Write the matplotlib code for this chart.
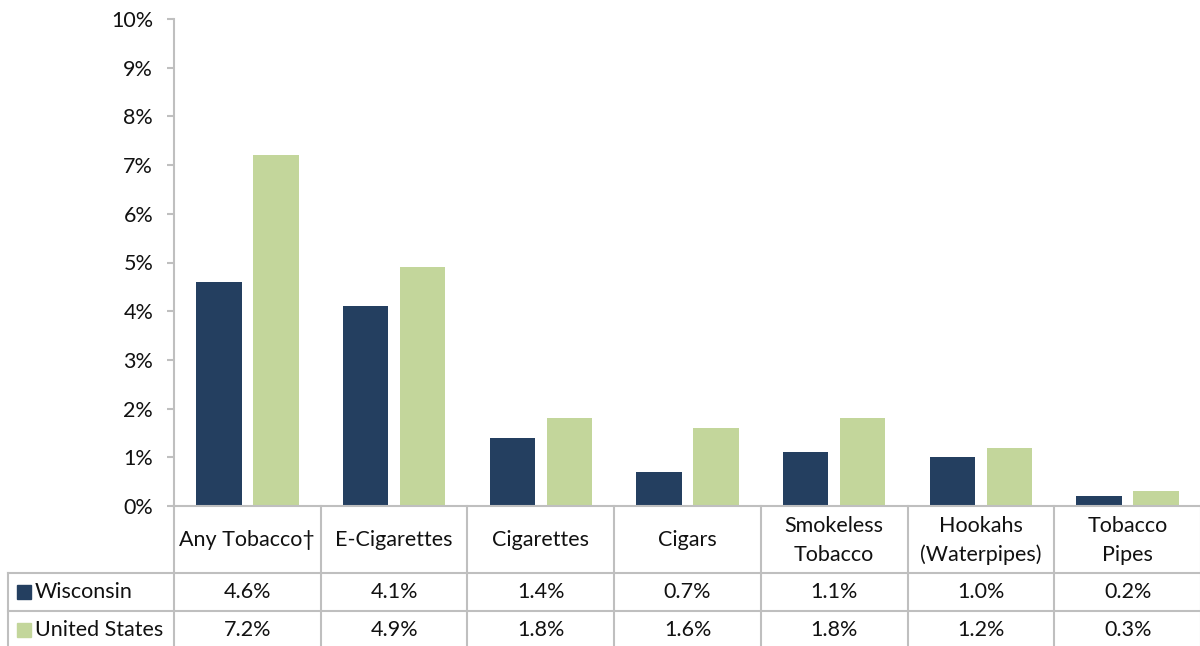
import matplotlib.pyplot as plt
from matplotlib.lines import Line2D

plt.rcParams['font.family'] = ['Lato', 'DejaVu Sans']

categories = ['Any Tobacco\u2020', 'E-Cigarettes', 'Cigarettes', 'Cigars',
              'Smokeless\nTobacco', 'Hookahs\n(Waterpipes)', 'Tobacco\nPipes']
wisconsin = [4.6, 4.1, 1.4, 0.7, 1.1, 1.0, 0.2]
united_states = [7.2, 4.9, 1.8, 1.6, 1.8, 1.2, 0.3]
series_names = ['Wisconsin', 'United States']
yticks = list(range(0, 11))

navy = '#243F60'
green = '#C3D69B'
grid_gray = '#BFBFBF'
txt = '#111111'
fs = 15.5

W, H = 1200, 646
fig = plt.figure(figsize=(W / 100, H / 100), dpi=100)

# plot area in pixel terms
left, right, top, base = 174, 1201, 19, 506
ax = fig.add_axes([left / W, 1 - base / H, (right - left) / W, (base - top) / H])

n = len(categories)
xs = [i + 0.5 for i in range(n)]
bw, off = 0.31, 0.194
ax.bar([x - off for x in xs], wisconsin, width=bw, color=navy)
ax.bar([x + off for x in xs], united_states, width=bw, color=green)

ax.set_xlim(0, n)
ax.set_ylim(0, 10)
ax.set_yticks(yticks)
ax.set_yticklabels([f'{t}%' for t in yticks], fontsize=fs, color=txt)
ax.set_xticks([])
for s in ['top', 'right']:
    ax.spines[s].set_visible(False)
ax.spines['left'].set_color(grid_gray)
ax.spines['left'].set_linewidth(1.5)
ax.spines['bottom'].set_color(grid_gray)
ax.spines['bottom'].set_linewidth(1.5)
ax.tick_params(axis='y', length=5, width=1.5, color=grid_gray, pad=10)

# data table below the plot
def fx(px):
    return px / W

def fy(py):
    return 1 - py / H

def hline(x0, x1, y):
    fig.add_artist(Line2D([fx(x0), fx(x1)], [fy(y), fy(y)], color=grid_gray, lw=1.5))

def vline(x, y0, y1):
    fig.add_artist(Line2D([fx(x), fx(x)], [fy(y0), fy(y1)], color=grid_gray, lw=1.5))

col_w = (right - left) / n
row_y = [506, 573, 611, 649]
table_left = 8

for i in range(n + 1):
    vline(left + i * col_w, row_y[0], row_y[-1])
vline(table_left, row_y[1], row_y[-1])
hline(table_left, right, row_y[1])
hline(table_left, right, row_y[2])
hline(table_left, right, row_y[3] - 1)

for i, cat in enumerate(categories):
    cx = left + (i + 0.5) * col_w
    fig.text(fx(cx), fy((row_y[0] + row_y[1]) / 2 + 1), cat, ha='center', va='center',
             fontsize=fs, color=txt, linespacing=1.55)

for r, (name, vals, col) in enumerate(zip(series_names, [wisconsin, united_states], [navy, green])):
    cy = (row_y[r + 1] + row_y[r + 2]) / 2
    fig.patches.append(plt.Rectangle((fx(17), fy(cy + 7)), fx(14), 14 / H,
                                     transform=fig.transFigure, color=col))
    fig.text(fx(35), fy(cy), name, ha='left', va='center', fontsize=fs, color=txt)
    for i, v in enumerate(vals):
        cx = left + (i + 0.5) * col_w
        fig.text(fx(cx), fy(cy), f'{v:.1f}%', ha='center', va='center',
                 fontsize=fs, color=txt)

plt.savefig('out.png', dpi=100)
